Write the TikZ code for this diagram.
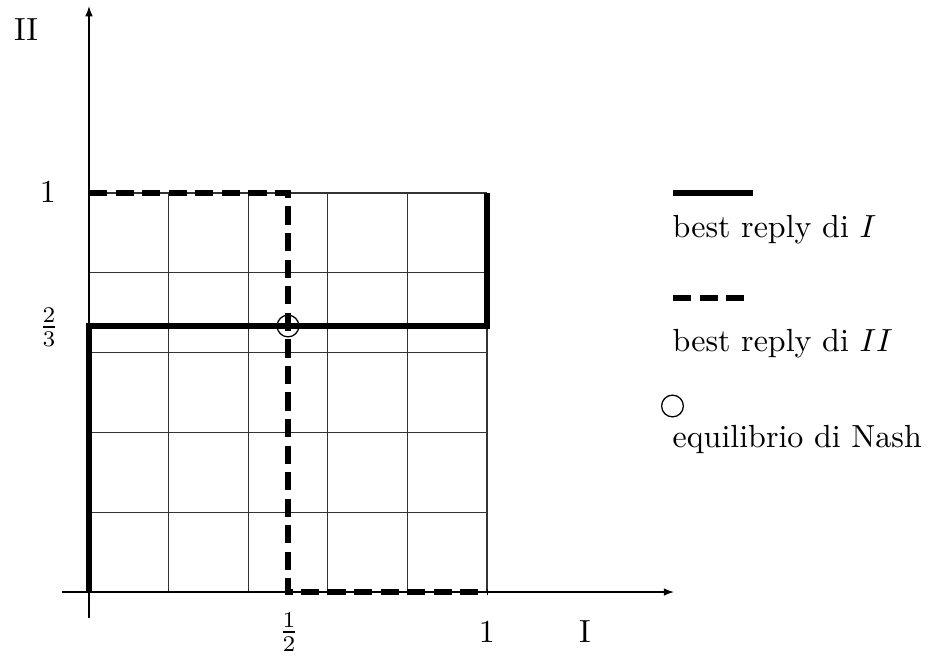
\documentclass[tikz,border=0pt]{standalone}
\usetikzlibrary{arrows.meta}
\begin{document}
\begin{tikzpicture}[x=0.3125pt,y=-0.3125pt,
  axis/.style={line width=0.45pt,-{Latex[length=3.2pt,width=2.4pt]}},
  gridline/.style={line width=0.4pt,draw=black!80},
  solidreply/.style={line width=1.6pt},
  dashreply/.style={line width=1.6pt,dash pattern=on 5.7pt off 2.6pt},
  lbl/.style={inner sep=0pt},
  legtext/.style={inner sep=0pt,anchor=base west},
  nashmark/.style={draw,circle,line width=0.4pt,minimum size=6.8pt,inner sep=0pt}]
\useasboundingbox (0,0) rectangle (928,657);
% grid
\foreach \i in {0,...,5} {
  \draw[gridline] ({89+\i*79.6},193) -- ({89+\i*79.6},592);
  \draw[gridline] (89,{193+\i*79.8}) -- (487,{193+\i*79.8});
}
% axes
\coordinate (xs) at (62,592);
\coordinate (xe) at (674,592);
\coordinate (ys) at (89,618);
\coordinate (ye) at (89,6);
\draw[axis] (xs) -- (xe);
\draw[axis] (ys) -- (ye);
% best replies
\coordinate (o) at (89,592);
\coordinate (a) at (89,326);
\coordinate (b) at (487,326);
\coordinate (c) at (487,193);
\draw[solidreply] (o) -- (a) -- (b) -- (c);
\coordinate (d) at (89,193);
\coordinate (e) at (288,193);
\coordinate (f) at (288,592);
\coordinate (g) at (487,592);
\draw[dashreply] (d) -- (e) -- (f) -- (g);
\node[nashmark] (nash) at (288,326) {};
% labels
\node[lbl] (ylab) at (26,30) {II};
\node[lbl] (xlab) at (585,632) {I};
\node[lbl] (y1) at (48,192) {1};
\node[lbl] (y23) at (49,327) {$\frac{2}{3}$};
\node[lbl] (x12) at (289,632) {$\frac{1}{2}$};
\node[lbl] (x1) at (487,632) {1};
% legend
\coordinate (l1a) at (673,193);
\coordinate (l1b) at (753,193);
\draw[solidreply] (l1a) -- (l1b);
\node[legtext] (t1) at (672,237) {best reply di $I$};
\coordinate (l2a) at (673,298);
\coordinate (l2b) at (746,298);
\draw[dashreply] (l2a) -- (l2b);
\node[legtext] (t2) at (672,351) {best reply di $II$};
\node[nashmark] (lc) at (672.5,406) {};
\node[legtext] (t3) at (672,447) {equilibrio di Nash};
\end{tikzpicture}
\end{document}
